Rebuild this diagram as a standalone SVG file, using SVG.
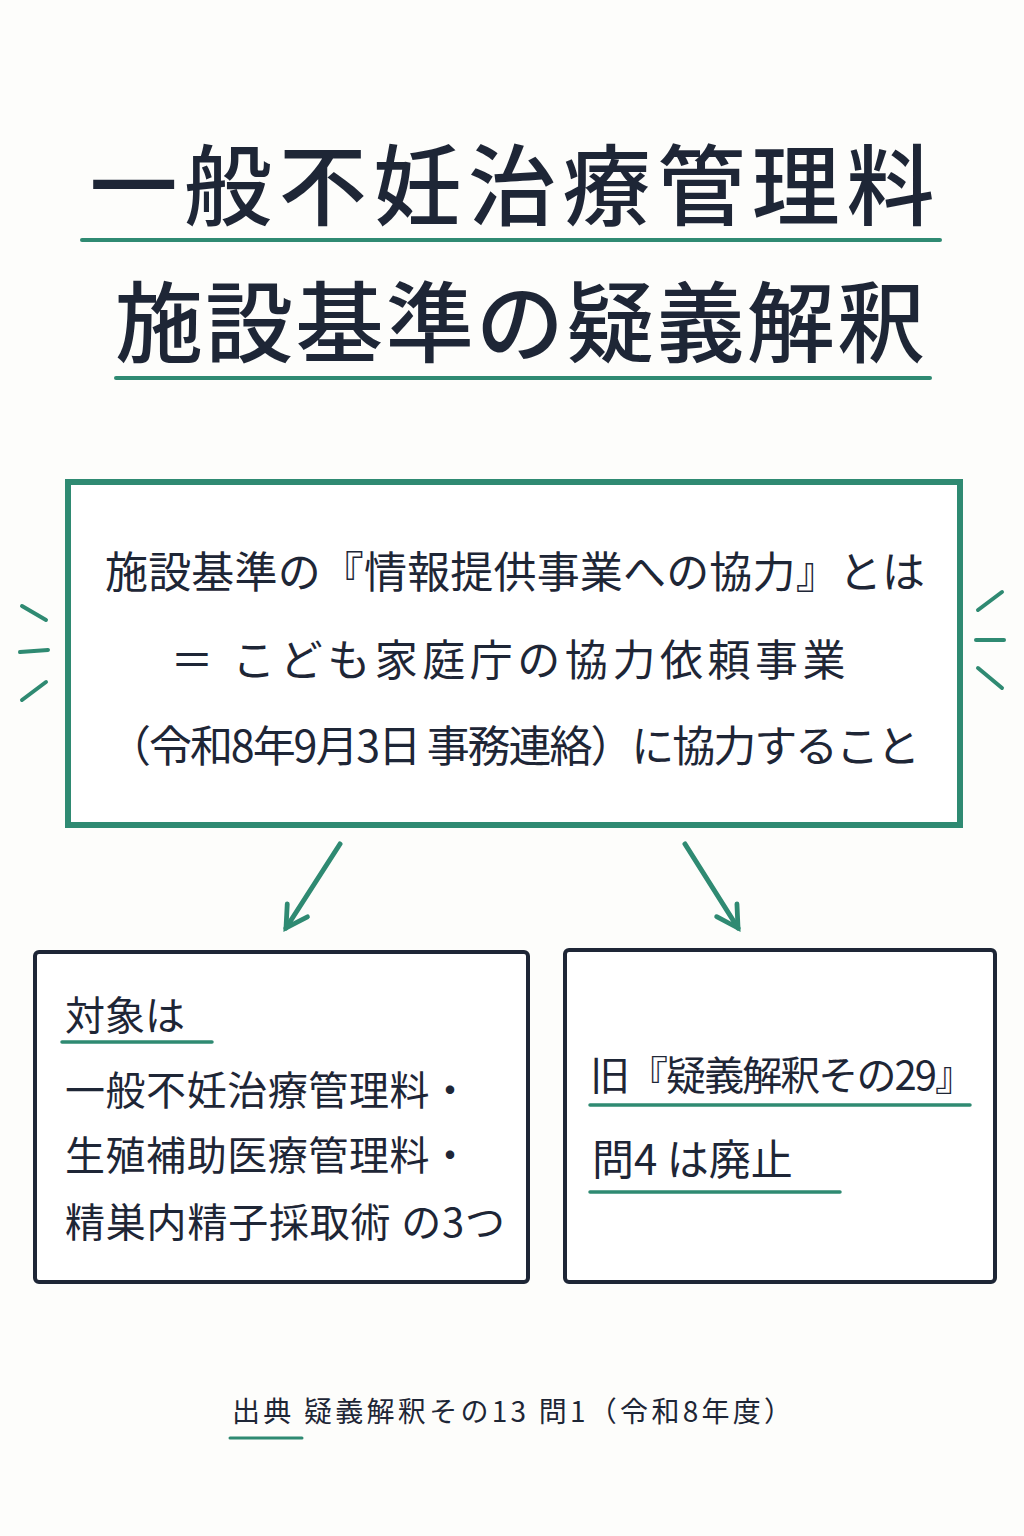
<svg xmlns="http://www.w3.org/2000/svg" width="1024" height="1536" viewBox="0 0 1024 1536">
<style>
.t{font-family:"Noto Sans CJK JP","Noto Sans",sans-serif;fill:#1e2636}
.g{stroke:#2f8a72;fill:none;stroke-linecap:round}
.n{stroke:#1e2636;fill:#fff;stroke-width:4}
</style>
<defs><marker id="ah" viewBox="0 0 10 10" refX="8" refY="5" markerWidth="6" markerHeight="6" orient="auto"><path d="M1,1 L8,5 L1,9" fill="none" stroke="#2f8a72" stroke-width="1.6" stroke-linecap="round"/></marker></defs>
<rect width="1024" height="1536" fill="#fdfdfb"/>
<g id="title">
<text class="t" x="512" y="218" font-size="88" font-weight="500" text-anchor="middle" textLength="845">一般不妊治療管理料</text>
<line class="g" x1="82" y1="240" x2="940" y2="240" stroke-width="4"/>
<text class="t" x="520" y="355" font-size="88" font-weight="500" text-anchor="middle" textLength="810">施設基準の疑義解釈</text>
<line class="g" x1="116" y1="378" x2="930" y2="378" stroke-width="4"/>
</g>
<g id="main">
<rect x="68" y="482" width="892" height="343" fill="#fff" stroke="#2f8a72" stroke-width="6"/>
<text class="t" x="515" y="588" font-size="43" text-anchor="middle" textLength="820">施設基準の『情報提供事業への協力』とは</text>
<text class="t" x="508" y="676" font-size="43" text-anchor="middle" textLength="675">＝ こども家庭庁の協力依頼事業</text>
<text class="t" x="514" y="762" font-size="43" text-anchor="middle" textLength="812">（令和8年9月3日 事務連絡）に協力すること</text>
</g>
<g id="ticks" class="g" stroke-width="4">
<line x1="22" y1="606" x2="46" y2="620"/><line x1="20" y1="652" x2="48" y2="650"/><line x1="22" y1="700" x2="46" y2="682"/>
<line x1="978" y1="610" x2="1002" y2="592"/><line x1="976" y1="640" x2="1004" y2="640"/><line x1="978" y1="668" x2="1002" y2="688"/>
</g>
<g id="connectors" class="g" stroke-width="5">
<line x1="340" y1="844" x2="286" y2="928" marker-end="url(#ah)"/>
<line x1="685" y1="844" x2="738" y2="928" marker-end="url(#ah)"/>
</g>
<g id="left">
<rect class="n" x="35" y="952" width="493" height="330" rx="4"/>
<text class="t" x="65" y="1030" font-size="40">対象は</text>
<line class="g" x1="62" y1="1042" x2="212" y2="1042" stroke-width="3.5"/>
<text class="t" x="65" y="1105" font-size="40" textLength="405">一般不妊治療管理料・</text>
<text class="t" x="65" y="1170" font-size="40" textLength="405">生殖補助医療管理料・</text>
<text class="t" x="65" y="1237" font-size="40" textLength="440">精巣内精子採取術 の3つ</text>
</g>
<g id="right">
<rect class="n" x="565" y="950" width="430" height="332" rx="4"/>
<text class="t" x="590" y="1090" font-size="40" textLength="385">旧『疑義解釈その29』</text>
<line class="g" x1="590" y1="1105" x2="970" y2="1105" stroke-width="3.5"/>
<text class="t" x="592" y="1175" font-size="42">問4 は廃止</text>
<line class="g" x1="590" y1="1192" x2="840" y2="1192" stroke-width="3.5"/>
</g>
<g id="footer">
<text class="t" x="512" y="1422" font-size="28" text-anchor="middle" textLength="560">出典  疑義解釈その13  問1（令和8年度）</text>
<line class="g" x1="230" y1="1438" x2="302" y2="1438" stroke-width="3"/>
</g>
</svg>
